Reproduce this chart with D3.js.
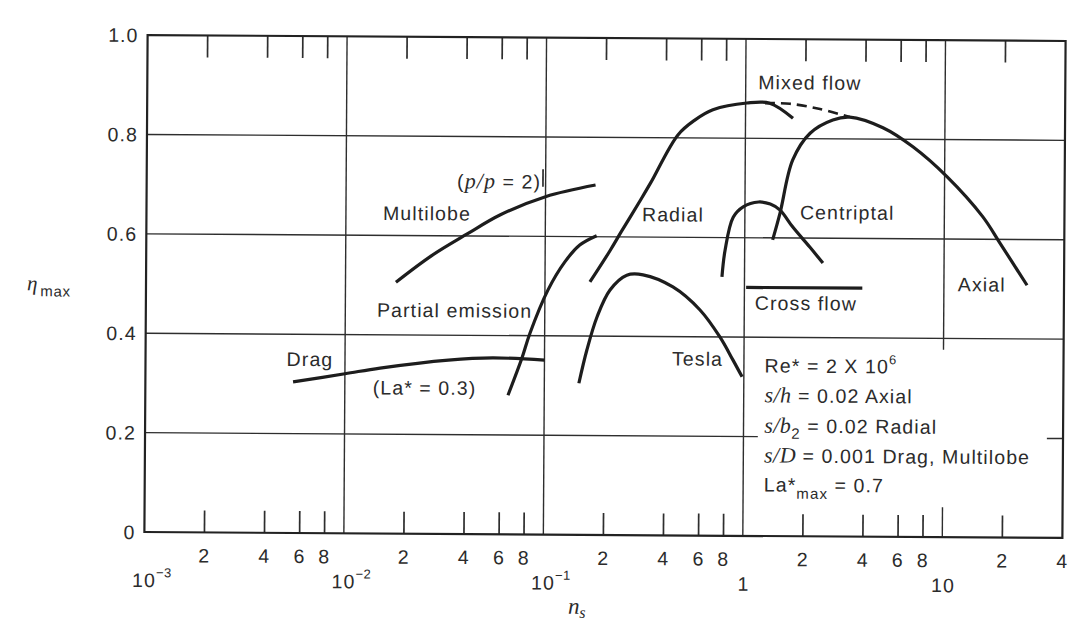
<!DOCTYPE html>
<html>
<head>
<meta charset="utf-8">
<script src="https://cdn.jsdelivr.net/npm/d3@7"></script>
<style>
  html, body { margin: 0; padding: 0; background: #ffffff; }
  svg { display: block; }
  text { font-family: 'Liberation Sans', Arial, Helvetica, sans-serif; fill: #2b2b2b; }
  .lbl { font-size: 19.5px; letter-spacing: 1.1px; }
  .math { font-family: 'Liberation Serif', 'DejaVu Serif', serif; font-style: italic; }
</style>
</head>
<body>
<svg id="chart" width="1069" height="625"></svg>
<script>
// ---- Efficiency envelopes, eta_max versus specific speed n_s ----
const dragCurve = [[0.0055, 0.304], [0.010, 0.321], [0.015, 0.333], [0.033, 0.350], [0.055, 0.355], [0.100, 0.351]];
const multilobeCurve = [[0.0179, 0.506], [0.027, 0.560], [0.0406, 0.604], [0.0595, 0.643], [0.100, 0.680], [0.178, 0.704]];
const partialEmissionCurve = [[0.0658, 0.280], [0.0771, 0.355], [0.0844, 0.405], [0.1035, 0.492], [0.1256, 0.549], [0.149, 0.583], [0.181, 0.602]];
const radialCurve = [[0.168, 0.509], [0.212, 0.573], [0.240, 0.610], [0.299, 0.674], [0.336, 0.709], [0.459, 0.806], [0.557, 0.836], [0.686, 0.857], [1.015, 0.871], [1.32, 0.871], [1.73, 0.841]];
const mixedFlowCurve = [[1.25, 0.871], [1.67, 0.870], [2.36, 0.860], [3.33, 0.844]];
const axialCurve = [[1.38, 0.596], [1.50, 0.650], [1.73, 0.757], [2.11, 0.811], [2.74, 0.838], [3.33, 0.844], [4.89, 0.823], [6.92, 0.785], [10.3, 0.725], [15.6, 0.645], [19.0, 0.593], [26.1, 0.508]];
const centripetalCurve = [[0.771, 0.521], [0.798, 0.575], [0.874, 0.641], [0.98, 0.662], [1.17, 0.672], [1.34, 0.668], [1.50, 0.656], [1.74, 0.622], [2.12, 0.582], [2.47, 0.550]];
const crossFlowCurve = [[1.02, 0.500], [3.9, 0.500]];
const teslaCurve = [[0.149, 0.305], [0.163, 0.372], [0.183, 0.439], [0.212, 0.493], [0.257, 0.523], [0.310, 0.524], [0.438, 0.500], [0.600, 0.454], [0.756, 0.400], [0.88, 0.354], [0.98, 0.320]];
const pressureRatioMark = [[0.097, 0.700], [0.097, 0.735]];

// ---- Axis ticks ----
const yTicks = [0, 0.2, 0.4, 0.6, 0.8, 1.0];
const yTickLabels = ["0", "0.2", "0.4", "0.6", "0.8", "1.0"];
const decades = [0.001, 0.01, 0.1, 1, 10];
const decadeBase = ["10", "10", "10", "1", "10"];
const decadeExp = ["\u22123", "\u22122", "\u22121", "", ""];
const minorMultipliers = [2, 4, 6, 8];
const minorTickLabels = ["2", "4", "6", "8"];
const edgeTick = 40;
const edgeTickLabel = "4";

// ---- Curve captions ----
const captions = [
  { text: "Drag", n: 0.0051, eta: 0.336 },
  { text: "(La* = 0.3)", n: 0.0138, eta: 0.280 },
  { text: "Partial emission", n: 0.01442, eta: 0.436 },
  { text: "Multilobe", n: 0.01535, eta: 0.631 },
  { text: "Radial", n: 0.305, eta: 0.632 },
  { text: "Mixed flow", n: 1.156, eta: 0.899 },
  { text: "Centriptal", n: 1.888, eta: 0.638 },
  { text: "Axial", n: 11.75, eta: 0.495 },
  { text: "Cross flow", n: 1.13, eta: 0.455 },
  { text: "Tesla", n: 0.436, eta: 0.342 }
];
const conditionLines = [0.329, 0.269, 0.208, 0.148, 0.0895];

const svg = d3.select("#chart");
const x = d3.scaleLog().domain([1e-3, 40]).range([146, 1064]);
const y = d3.scaleLinear().domain([0, 1]).range([535, 38]);

// the printed plate sits very slightly skewed on the page
const g = svg.append("g").attr("transform", "rotate(0.37 605 286)");

const ink = "#1d1d1d";
const gridInk = "#2e2e2e";

// ---- Grid ----
const hGrid = [
  { eta: 0.8, from: 1e-3, to: 40 },
  { eta: 0.6, from: 1e-3, to: 40 },
  { eta: 0.4, from: 1e-3, to: 40 },
  { eta: 0.2, from: 1e-3, to: 1.18 },
  { eta: 0.2, from: 33.2, to: 40 }
];
g.append("g").selectAll("line").data(hGrid).join("line")
  .attr("x1", d => x(d.from)).attr("x2", d => x(d.to))
  .attr("y1", d => y(d.eta)).attr("y2", d => y(d.eta))
  .attr("stroke", gridInk).attr("stroke-width", 1.4);

const vGrid = [
  { n: 0.01, lo: 0, hi: 1 },
  { n: 0.1, lo: 0, hi: 1 },
  { n: 1, lo: 0, hi: 1 },
  { n: 10, lo: 0.377, hi: 1 },
  { n: 10, lo: 0, hi: 0.06 }
];
g.append("g").selectAll("line").data(vGrid).join("line")
  .attr("x1", d => x(d.n)).attr("x2", d => x(d.n))
  .attr("y1", d => y(d.lo)).attr("y2", d => y(d.hi))
  .attr("stroke", gridInk).attr("stroke-width", 1.4);

// ---- Minor ticks top and bottom ----
const minor = [];
decades.forEach(dec => minorMultipliers.forEach((m, i) => {
  const v = dec * m;
  if (v < edgeTick) minor.push({ v, label: minorTickLabels[i] });
}));
const tickLen = 22;
g.append("g").selectAll("line").data(minor).join("line")
  .attr("x1", d => x(d.v)).attr("x2", d => x(d.v))
  .attr("y1", y(0)).attr("y2", y(0) - tickLen)
  .attr("stroke", gridInk).attr("stroke-width", 1.7);
g.append("g").selectAll("line").data(minor).join("line")
  .attr("x1", d => x(d.v)).attr("x2", d => x(d.v))
  .attr("y1", y(1)).attr("y2", y(1) + tickLen)
  .attr("stroke", gridInk).attr("stroke-width", 1.7);

// ---- Frame ----
g.append("rect")
  .attr("x", x(1e-3)).attr("y", y(1))
  .attr("width", x(40) - x(1e-3)).attr("height", y(0) - y(1))
  .attr("fill", "none").attr("stroke", "#222").attr("stroke-width", 2.2);

// ---- Tick labels ----
const tickLabelG = g.append("g").attr("class", "lbl");
tickLabelG.selectAll("text.minor").data(minor.concat([{ v: edgeTick, label: edgeTickLabel }])).join("text")
  .attr("class", "minor")
  .attr("x", d => x(d.v)).attr("y", 565)
  .attr("text-anchor", "middle")
  .text(d => d.label);

decades.forEach((d, i) => {
  const t = tickLabelG.append("text").attr("y", 590);
  if (decadeExp[i]) {
    t.attr("x", x(d) - 12).attr("text-anchor", "start");
    t.append("tspan").text(decadeBase[i]);
    t.append("tspan").attr("dy", -10).style("font-size", "13px").style("letter-spacing", "0.5px").text(decadeExp[i]);
  } else {
    t.attr("x", x(d) + 1).attr("text-anchor", "middle").text(decadeBase[i]);
  }
});

tickLabelG.selectAll("text.ylab").data(yTicks).join("text")
  .attr("class", "ylab")
  .attr("x", 137).attr("y", d => y(d))
  .attr("dy", "0.36em")
  .attr("text-anchor", "end")
  .text((d, i) => yTickLabels[i]);

// ---- Axis titles ----
const yTitle = g.append("text").attr("x", 27).attr("y", 294);
yTitle.append("tspan").attr("class", "math").style("font-size", "21px").text("\u03b7");
yTitle.append("tspan").attr("dx", 3).attr("dy", 6).style("font-size", "15px").style("letter-spacing", "0.6px").text("max");

const xTitle = g.append("text").attr("x", 570).attr("y", 614);
xTitle.append("tspan").attr("class", "math").style("font-size", "23px").text("n");
xTitle.append("tspan").attr("class", "math").attr("dy", 4).style("font-size", "16px").text("s");

// ---- Curves ----
const line = d3.line().x(d => x(d[0])).y(d => y(d[1])).curve(d3.curveCatmullRom.alpha(0.5));
const solid = [dragCurve, multilobeCurve, partialEmissionCurve, radialCurve, axialCurve, centripetalCurve, crossFlowCurve, teslaCurve];
g.append("g").selectAll("path").data(solid).join("path")
  .attr("d", line)
  .attr("fill", "none").attr("stroke", ink).attr("stroke-width", 3.2)
  .attr("stroke-linecap", "butt").attr("stroke-linejoin", "round");

g.append("path").datum(mixedFlowCurve)
  .attr("d", line)
  .attr("fill", "none").attr("stroke", ink).attr("stroke-width", 2.6)
  .attr("stroke-dasharray", "10,6");

g.append("path").datum(pressureRatioMark)
  .attr("d", d3.line().x(d => x(d[0])).y(d => y(d[1])))
  .attr("stroke", ink).attr("stroke-width", 1.6);

// ---- Captions ----
const capG = g.append("g").attr("class", "lbl");
capG.selectAll("text").data(captions).join("text")
  .attr("x", d => x(d.n)).attr("y", d => y(d.eta))
  .text(d => d.text);

// pressure ratio note with italic symbols
const pr = capG.append("text").attr("x", x(0.036)).attr("y", y(0.696));
pr.append("tspan").text("(");
pr.append("tspan").attr("class", "math").style("font-size", "22px").text("p/p");
pr.append("tspan").text(" = 2)");

// ---- Operating conditions ----
const condX = x(1.27);
const c0 = capG.append("text").attr("x", condX).attr("y", y(conditionLines[0]));
c0.append("tspan").text("Re* = 2 X 10");
c0.append("tspan").attr("dy", -9).style("font-size", "13px").text("6");

const c1 = capG.append("text").attr("x", condX).attr("y", y(conditionLines[1]));
c1.append("tspan").attr("class", "math").style("font-size", "22px").style("letter-spacing", "0.5px").text("s/h");
c1.append("tspan").text(" = 0.02 Axial");

const c2 = capG.append("text").attr("x", condX).attr("y", y(conditionLines[2]));
c2.append("tspan").attr("class", "math").style("font-size", "22px").style("letter-spacing", "0.5px").text("s/b");
c2.append("tspan").attr("dy", 6).style("font-size", "15px").text("2");
c2.append("tspan").attr("dy", -6).text(" = 0.02 Radial");

const c3 = capG.append("text").attr("x", condX).attr("y", y(conditionLines[3]));
c3.append("tspan").attr("class", "math").style("font-size", "22px").style("letter-spacing", "0.5px").text("s/D");
c3.append("tspan").text(" = 0.001 Drag, Multilobe");

const c4 = capG.append("text").attr("x", condX).attr("y", y(conditionLines[4]));
c4.append("tspan").text("La*");
c4.append("tspan").attr("dy", 7).style("font-size", "15px").text("max");
c4.append("tspan").attr("dy", -7).text(" = 0.7");
</script>
</body>
</html>
